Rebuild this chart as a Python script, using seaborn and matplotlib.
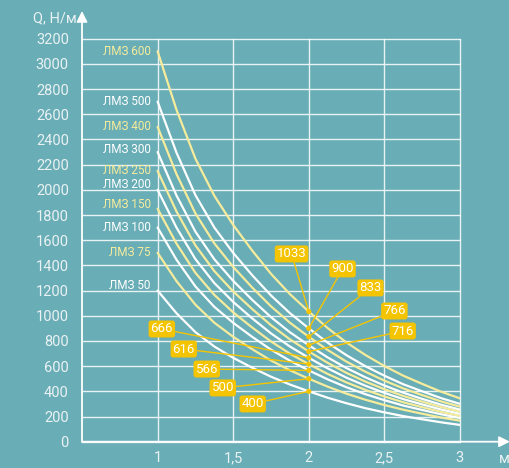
import pandas as pd
import seaborn as sns
import matplotlib.pyplot as plt
from matplotlib.ticker import FixedLocator, MultipleLocator

# span length, m
length = [1, 1.125, 1.25, 1.375, 1.5, 1.625, 1.75, 1.875, 2,
          2.125, 2.25, 2.375, 2.5, 2.625, 2.75, 2.875, 3]

# load Q, N/m
lmz_50 = [1200, 1020, 870, 756, 666, 588, 516, 454, 400, 349, 305, 266, 233, 203, 178, 154, 133]
lmz_75 = [1500, 1275, 1088, 945, 833, 735, 645, 567, 500, 437, 381, 333, 291, 254, 222, 192, 167]
lmz_100 = [1700, 1445, 1233, 1071, 944, 833, 731, 643, 566, 495, 432, 377, 330, 287, 252, 218, 189]
lmz_150 = [1850, 1573, 1341, 1166, 1027, 907, 796, 699, 616, 538, 470, 411, 359, 313, 274, 237, 205]
lmz_200 = [2000, 1700, 1450, 1260, 1110, 980, 860, 756, 666, 582, 508, 444, 388, 338, 296, 256, 222]
lmz_250 = [2150, 1828, 1559, 1355, 1193, 1054, 925, 813, 716, 626, 546, 477, 417, 363, 318, 275, 239]
lmz_300 = [2300, 1955, 1668, 1449, 1277, 1127, 989, 869, 766, 669, 584, 511, 446, 389, 340, 294, 255]
lmz_400 = [2500, 2125, 1813, 1575, 1388, 1225, 1075, 945, 833, 728, 635, 555, 485, 423, 370, 320, 278]
lmz_500 = [2700, 2295, 1958, 1701, 1499, 1323, 1161, 1021, 900, 786, 686, 599, 524, 456, 400, 346, 300]
lmz_600 = [3100, 2635, 2248, 1953, 1721, 1519, 1333, 1172, 1033, 902, 787, 688, 601, 524, 459, 397, 344]

series_names = ['ЛМЗ 50', 'ЛМЗ 75', 'ЛМЗ 100', 'ЛМЗ 150', 'ЛМЗ 200',
                'ЛМЗ 250', 'ЛМЗ 300', 'ЛМЗ 400', 'ЛМЗ 500', 'ЛМЗ 600']
series_values = [lmz_50, lmz_75, lmz_100, lmz_150, lmz_200,
                 lmz_250, lmz_300, lmz_400, lmz_500, lmz_600]

# callouts at 2 m
callout_x = 2
callout_values = [400, 500, 566, 616, 666, 716, 766, 833, 900, 1033]

x_ticks = [1, 1.5, 2, 2.5, 3]
x_tick_labels = ['1', '1,5', '2', '2,5', '3']
y_ticks = list(range(0, 3201, 200))

# styling / layout
BG = '#69adb6'
WHITE = '#ffffff'
YELLOW = '#f6ec9c'
GOLD = '#f5c400'
TEXT = '#eaf2f3'
colors = [WHITE, YELLOW] * 5
label_nudge = [4, 0, 0, 3, 4, 0, 1.5, 0, 0, 0]  # points, to keep names apart
box_pos = [(1.629, 300), (1.431, 427), (1.325, 577), (1.173, 736), (1.028, 895),
           (2.621, 879), (2.566, 1038), (2.408, 1221), (2.223, 1372), (1.886, 1491)]

sns.set_style('white')
plt.rcParams['font.family'] = ['Roboto', 'DejaVu Sans']

df = pd.concat([pd.DataFrame({'L': length, 'Q': vals, 'series': name})
                for name, vals in zip(series_names, series_values)])

fig = plt.figure(figsize=(5.1, 4.68), dpi=100, facecolor=BG)
ax = fig.add_axes([82 / 510, 26.3 / 468, 378 / 510, 403 / 468])
ax.set_facecolor(BG)

sns.lineplot(data=df, x='L', y='Q', hue='series', hue_order=series_names,
             palette=dict(zip(series_names, colors)), linewidth=1.6,
             legend=False, ax=ax, zorder=3)

ax.set_xlim(0.5, 3)
ax.set_ylim(0, 3200)
ax.set_xlabel('')
ax.set_ylabel('')
for s in ax.spines.values():
    s.set_visible(False)

ax.xaxis.set_major_locator(FixedLocator(x_ticks))
ax.set_xticklabels(x_tick_labels)
ax.xaxis.set_minor_locator(FixedLocator([0.75, 1.25, 1.75, 2.25, 2.75]))
ax.yaxis.set_major_locator(FixedLocator(y_ticks))
ax.yaxis.set_minor_locator(MultipleLocator(40))
ax.tick_params(axis='x', which='major', length=0, pad=7, labelsize=10.5, labelcolor=TEXT)
ax.tick_params(axis='x', which='minor', direction='in', length=5, width=1, color=WHITE)
ax.tick_params(axis='y', which='major', direction='inout', length=5, width=1,
               color=WHITE, pad=7, labelsize=10.5, labelcolor=TEXT)
ax.tick_params(axis='y', which='minor', direction='inout', length=4, width=0.8, color=WHITE)

ax.grid(which='major', color=WHITE, linewidth=1, alpha=0.85)
for gl in ax.get_xgridlines() + ax.get_ygridlines():
    gl.set_clip_on(False)
ax.set_axisbelow(True)

# axes with arrows
ax.annotate('', xy=(3.33, 0), xytext=(0.5, 0), annotation_clip=False,
            arrowprops=dict(arrowstyle='-|>', color=WHITE, lw=1.3,
                            mutation_scale=16, shrinkA=0, shrinkB=0))
ax.annotate('', xy=(0.5, 3420), xytext=(0.5, 0), annotation_clip=False,
            arrowprops=dict(arrowstyle='-|>', color=WHITE, lw=1.3,
                            mutation_scale=16, shrinkA=0, shrinkB=0))
fig.text(55 / 510, 1 - 18 / 468, 'Q, Н/м', ha='center', va='center',
         fontsize=10.5, color=TEXT)
fig.text(504 / 510, 1 - 459 / 468, 'м', ha='center', va='center',
         fontsize=10.5, color=TEXT)

# curve names
for name, vals, col, dy in zip(series_names, series_values, colors, label_nudge):
    ax.annotate(name, xy=(length[0], vals[0]), xytext=(-5, dy),
                textcoords='offset points', ha='right', va='center',
                fontsize=8.5, color=col)

# callouts
sns.scatterplot(x=[callout_x] * len(callout_values), y=callout_values,
                color=GOLD, s=14, edgecolor='none', zorder=6, ax=ax,
                legend=False)
for v, (bx, by) in zip(callout_values, box_pos):
    ax.annotate(str(v), xy=(callout_x, v), xytext=(bx, by), textcoords='data',
                ha='center', va='center', fontsize=9.5, color=WHITE, zorder=7,
                bbox=dict(boxstyle='round,pad=0.15,rounding_size=0.2',
                          fc=GOLD, ec='none'),
                arrowprops=dict(arrowstyle='-', color=GOLD, lw=1,
                                shrinkA=0, shrinkB=0))

fig.savefig('out.png', dpi=100, facecolor=BG)
